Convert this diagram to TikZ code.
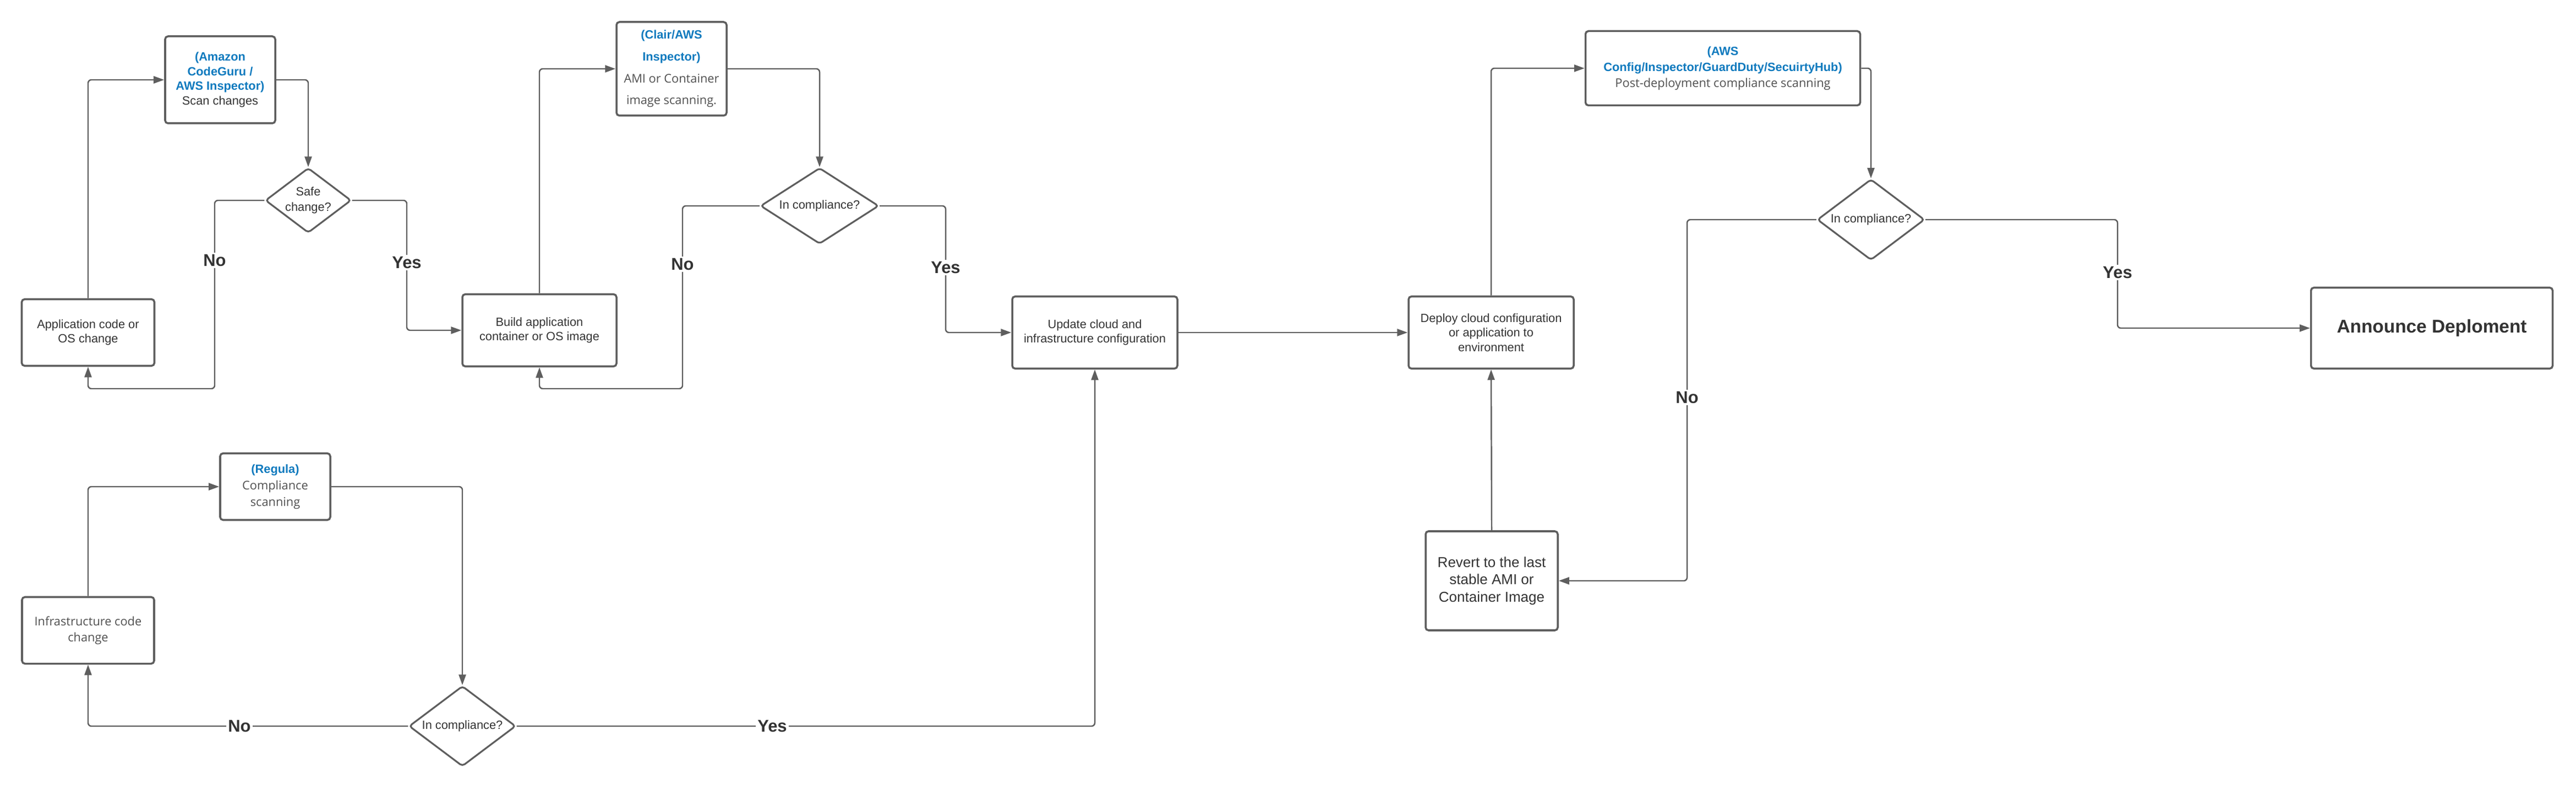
\documentclass[tikz,border=0pt]{standalone}
\usepackage{fontspec}
\setmainfont{Liberation Sans}
\newfontfamily\opensans{Open Sans}
\usepackage{xcolor}
\usetikzlibrary{shapes.geometric,arrows.meta,positioning}
\definecolor{lineGray}{RGB}{94,94,94}
\definecolor{textDark}{RGB}{51,51,51}
\definecolor{textGray}{RGB}{80,80,80}
\definecolor{toolBlue}{RGB}{16,122,190}
\newcommand{\toolname}[1]{{\color{toolBlue}\bfseries #1}}
\newcommand{\scantext}[1]{{\opensans\color{textGray}#1}}

\begin{document}
\begin{tikzpicture}[
    box/.style={rectangle, draw=lineGray, line width=1pt, rounded corners=1.5pt, fill=white, text=textDark, align=center, inner sep=0pt, font=\fontsize{6.2}{7.6}\selectfont},
    check/.style={diamond, draw=lineGray, line width=0.9pt, rounded corners=1.5pt, fill=white, text=textDark, align=center, inner sep=0pt, font=\fontsize{6.2}{7.8}\selectfont},
    flow/.style={-{Triangle[length=0.19cm,width=0.13cm]}, draw=lineGray, line width=0.7pt, rounded corners=0.06cm},
    answer/.style={fill=white, text=textDark, inner sep=1pt, font=\fontsize{8.8}{10}\selectfont\bfseries}
]
\useasboundingbox (0,0) rectangle (46.8,14.34);

% Application code path
\node[box, minimum width=2.41cm, minimum height=1.21cm] (appcode) at (1.60, 8.30) {Application code or\\OS change};
\node[box, minimum width=2.00cm, minimum height=1.58cm] (scan) at (4.00, 12.89) {\toolname{(Amazon}\\\toolname{CodeGuru /}\\\toolname{AWS Inspector)}\\Scan changes};
\node[check, aspect=1.32, minimum width=1.56cm, minimum height=1.18cm] (safe) at (5.60, 10.70) {Safe\\change?};
\node[box, minimum width=2.80cm, minimum height=1.31cm] (build) at (9.80, 8.34) {Build application\\container or OS image};
\node[box, minimum width=2.00cm, minimum height=1.70cm, font=\fontsize{6.2}{11.3}\selectfont] (clair) at (12.20, 13.09) {\toolname{(Clair/AWS}\\\toolname{Inspector)}\\\scantext{AMI or Container}\\\scantext{image scanning.}};
\node[check, aspect=1.56, minimum width=2.15cm, minimum height=1.38cm] (comp1) at (14.89, 10.60) {In compliance?};

% Infrastructure code path
\node[box, minimum width=2.40cm, minimum height=1.21cm, font=\fontsize{6.2}{8.2}\selectfont] (infra) at (1.60, 2.89) {\scantext{Infrastructure code}\\\scantext{change}};
\node[box, minimum width=2.00cm, minimum height=1.21cm, font=\fontsize{6.2}{8.5}\selectfont] (regula) at (5.00, 5.50) {\toolname{(Regula)}\\\scantext{Compliance}\\\scantext{scanning}};
\node[check, aspect=1.33, minimum width=1.94cm, minimum height=1.46cm] (comp4) at (8.40, 1.15) {In compliance?};

% Deployment
\node[box, minimum width=3.00cm, minimum height=1.31cm] (update) at (19.89, 8.30) {Update cloud and\\infrastructure configuration};
\node[box, minimum width=3.00cm, minimum height=1.31cm] (deploy) at (27.09, 8.30) {Deploy cloud configuration\\or application to\\environment};
\node[box, minimum width=4.99cm, minimum height=1.35cm, font=\fontsize{6.2}{8.3}\selectfont] (config) at (31.30, 13.10) {\toolname{(AWS}\\\toolname{Config/Inspector/GuardDuty/SecuirtyHub)}\\\scantext{Post-deployment compliance scanning}};
\node[check, aspect=1.33, minimum width=1.95cm, minimum height=1.47cm] (comp3) at (33.99, 10.35) {In compliance?};
\node[box, minimum width=2.40cm, minimum height=1.80cm, font=\fontsize{7.4}{9}\selectfont] (revert) at (27.10, 3.79) {Revert to the last\\stable AMI or\\Container Image};
\node[box, minimum width=4.39cm, minimum height=1.47cm, font=\fontsize{9.5}{11}\selectfont\bfseries] (announce) at (44.18, 8.38) {Announce Deploment};

% Connectors - application code
\draw[flow] (appcode.north) |- (scan.west);
\draw[flow] (scan.east) -| (safe.north);
\draw[flow] (safe.west) -| (3.90, 7.28) -| (appcode.south);
\draw[flow] (safe.east) -| (7.39, 8.34) -- (build.west);
\draw[flow] (build.north) |- (clair.west);
\draw[flow] (clair.east) -| (comp1.north);
\draw[flow] (comp1.west) -| (12.40, 7.28) -| (build.south);
\draw[flow] (comp1.east) -| (17.18, 8.30) -- (update.west);

% Connectors - infrastructure code
\draw[flow] (infra.north) |- (regula.west);
\draw[flow] (regula.east) -| (comp4.north);
\draw[flow] (comp4.west) -| (infra.south);
\draw[flow] (comp4.east) -| (update.south);

% Connectors - deployment
\draw[flow] (update.east) -- (deploy.west);
\draw[flow] (deploy.north) |- (config.west);
\draw[flow] (config.east) -| (comp3.north);
\draw[flow] (comp3.east) -| (38.47, 8.38) -- (announce.west);
\draw[flow] (comp3.west) -| (30.65, 3.79) -- (revert.east);
\draw[flow] (revert.north) -- (deploy.south);

% Yes / No labels
\node[answer] (no1) at (3.90, 9.61) {No};
\node[answer] (yes1) at (7.39, 9.57) {Yes};
\node[answer] (no2) at (12.40, 9.54) {No};
\node[answer] (yes2) at (17.18, 9.48) {Yes};
\node[answer] (no4) at (4.35, 1.15) {No};
\node[answer] (yes4) at (14.03, 1.15) {Yes};
\node[answer] (no3) at (30.65, 7.12) {No};
\node[answer] (yes3) at (38.47, 9.39) {Yes};

\end{tikzpicture}
\end{document}
